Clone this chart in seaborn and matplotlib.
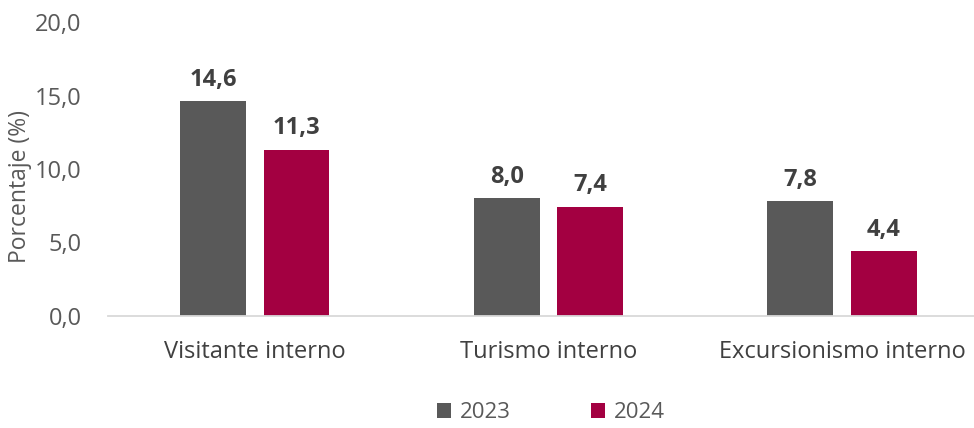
import matplotlib
matplotlib.use("Agg")
import matplotlib.pyplot as plt
import seaborn as sns
import pandas as pd
from matplotlib.ticker import FuncFormatter, MultipleLocator
from matplotlib.patches import Patch

categories = ["Visitante interno", "Turismo interno", "Excursionismo interno"]
years = ["2023", "2024"]
values_2023 = [14.6, 8.0, 7.8]
values_2024 = [11.3, 7.4, 4.4]
colors = ["#595959", "#A30041"]

df = pd.DataFrame({
    "cat": categories * 2,
    "year": [years[0]] * 3 + [years[1]] * 3,
    "val": values_2023 + values_2024,
})

sns.set_theme(style="white")
plt.rcParams["font.family"] = ["Open Sans", "DejaVu Sans"]

fig = plt.figure(figsize=(9.74, 4.28), dpi=100)
ax = fig.add_axes([108 / 974, (428 - 316) / 428, (974 - 108) / 974, (316 - 22) / 428])

sns.barplot(data=df, x="cat", y="val", hue="year", order=categories, hue_order=years,
            palette=colors, width=0.568, gap=0.21, ax=ax, legend=False,
            edgecolor="none", saturation=1)

for cont in ax.containers:
    labels = [f"{v:.1f}".replace(".", ",") for v in cont.datavalues]
    ax.bar_label(cont, labels=labels, padding=7, fontsize=17, fontweight="bold", color="#404040")

ax.set_ylim(0, 20)
ax.set_xlim(-0.5, 2.45)
ax.yaxis.set_major_locator(MultipleLocator(5))
ax.yaxis.set_major_formatter(FuncFormatter(lambda v, p: f"{v:.1f}".replace(".", ",")))
ax.tick_params(axis="y", length=0, pad=19, labelsize=17, labelcolor="#595959")
ax.tick_params(axis="x", length=0, pad=17, labelsize=17, labelcolor="#404040")
ax.set_xlabel("")
ax.set_ylabel("Porcentaje (%)", fontsize=16.5, color="#595959")
ax.yaxis.set_label_coords(-0.088, 0.44)

for s in ["left", "right", "top"]:
    ax.spines[s].set_visible(False)
ax.spines["bottom"].set_color("#D9D9D9")
ax.spines["bottom"].set_linewidth(1.3)
ax.grid(False)

handles = [Patch(facecolor=c, edgecolor="none", label=y) for c, y in zip(colors, years)]
fig.legend(handles=handles, loc="center", bbox_to_anchor=(551 / 974, 1 - 413 / 428), ncol=2,
           frameon=False, fontsize=16, handlelength=0.62, handleheight=0.62,
           handletextpad=0.4, columnspacing=3.6, labelcolor="#595959")

fig.savefig("out.png", dpi=100)
